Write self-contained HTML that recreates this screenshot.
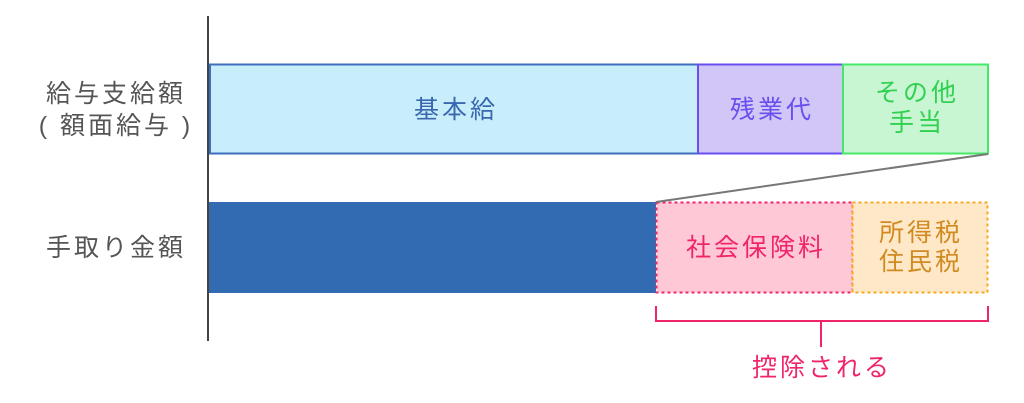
<!DOCTYPE html>
<html><head><meta charset="utf-8"><style>
html,body{margin:0;padding:0;background:#fff;width:1024px;height:403px;overflow:hidden}
text{font-family:"Liberation Sans","Noto Sans CJK JP",sans-serif;font-size:25px;letter-spacing:3px}
</style></head><body>
<svg width="1024" height="403" xmlns="http://www.w3.org/2000/svg">
<rect x="210" y="64.5" width="488" height="89" fill="#c9eefb" stroke="#3e6fbe" stroke-width="2"/>
<rect x="698" y="64.5" width="145" height="89" fill="#d2c6f6" stroke="#6a4ff0" stroke-width="2"/>
<rect x="843" y="64.5" width="145" height="89" fill="#c8f6d2" stroke="#46e868" stroke-width="2"/>
<rect x="208" y="202" width="448" height="91" fill="#336bb3"/>
<rect x="656.5" y="202.5" width="196" height="90" fill="#ffc8d6" stroke="#f0246a" stroke-width="2" stroke-dasharray="3,3"/>
<rect x="852.5" y="202.5" width="135" height="90" fill="#ffe8c8" stroke="#f8a820" stroke-width="2" stroke-dasharray="3,3"/>
<line x1="656" y1="202" x2="988" y2="154" stroke="#777" stroke-width="2"/>
<line x1="208" y1="16" x2="208" y2="341" stroke="#444" stroke-width="2"/>
<path d="M656 306 V321 H988 V306 M821 321 V347" fill="none" stroke="#f0246a" stroke-width="2"/>
<g text-anchor="middle">
<text x="116" y="102" fill="#555">給与支給額</text>
<text x="116" y="134" fill="#555">( 額面給与 )</text>
<text x="116" y="256" fill="#555">手取り金額</text>
<text x="456" y="118" fill="#3a68b0">基本給</text>
<text x="772" y="118" fill="#6a4ff0">残業代</text>
<text x="917" y="101" fill="#30d050">その他</text>
<text x="917" y="131" fill="#30d050">手当</text>
<text x="756" y="256" fill="#f0246a">社会保険料</text>
<text x="921" y="241" fill="#d08a20">所得税</text>
<text x="921" y="270" fill="#d08a20">住民税</text>
<text x="822" y="376" fill="#f0246a">控除される</text>
</g>
</svg>
</body></html>
